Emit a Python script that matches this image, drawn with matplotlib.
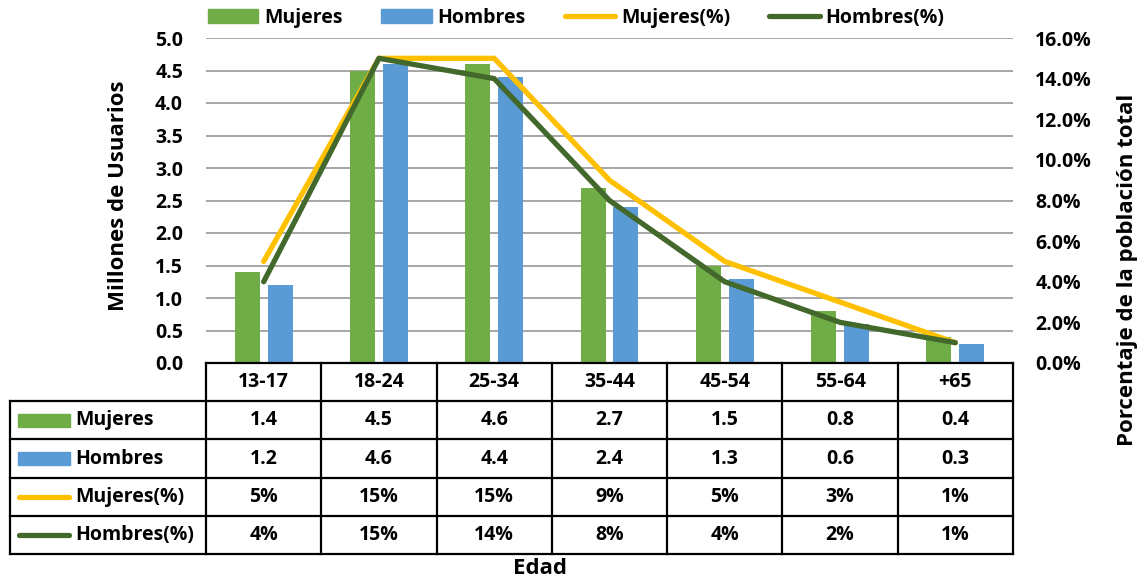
import numpy as np
import matplotlib.pyplot as plt
from matplotlib.ticker import MultipleLocator, FormatStrFormatter, PercentFormatter
from matplotlib.transforms import blended_transform_factory
from matplotlib.patches import Rectangle
from matplotlib.lines import Line2D

# data
edades = ['13-17', '18-24', '25-34', '35-44', '45-54', '55-64', '+65']
mujeres = [1.4, 4.5, 4.6, 2.7, 1.5, 0.8, 0.4]
hombres = [1.2, 4.6, 4.4, 2.4, 1.3, 0.6, 0.3]
mujeres_pct = [5, 15, 15, 9, 5, 3, 1]
hombres_pct = [4, 15, 14, 8, 4, 2, 1]

c_muj = '#70AD47'
c_hom = '#5B9BD5'
c_mpct = '#FFC000'
c_hpct = '#43682B'

plt.rcParams['font.family'] = ['Open Sans', 'DejaVu Sans']
plt.rcParams['font.weight'] = 'bold'
FS = 14

W, H = 1148, 581
fig = plt.figure(figsize=(W / 100, H / 100), dpi=100)

# main axes (pixel layout of the reference)
ax = fig.add_axes([206 / W, 1 - 363 / H, 807 / W, 325 / H])
x = np.arange(len(edades))
ax.bar(x - 0.143, mujeres, width=0.217, color=c_muj, zorder=2)
ax.bar(x + 0.143, hombres, width=0.217, color=c_hom, zorder=2)
ax.set_xlim(-0.5, len(edades) - 0.5)
ax.set_ylim(0, 5)
ax.yaxis.set_major_locator(MultipleLocator(0.5))
ax.yaxis.set_major_formatter(FormatStrFormatter('%.1f'))
ax.grid(axis='y', color='#A6A6A6', lw=1.4, zorder=0)
ax.set_xticks([])
ax.tick_params(axis='y', length=0, pad=16.5, labelsize=FS)
for s in ax.spines.values():
    s.set_visible(False)

ax2 = ax.twinx()
ax2.plot(x, mujeres_pct, color=c_mpct, lw=3.8, solid_capstyle='round', solid_joinstyle='round')
ax2.plot(x, hombres_pct, color=c_hpct, lw=3.8, solid_capstyle='round', solid_joinstyle='round')
ax2.set_ylim(0, 16)
ax2.yaxis.set_major_locator(MultipleLocator(2))
ax2.yaxis.set_major_formatter(PercentFormatter(decimals=1))
ax2.tick_params(axis='y', length=0, pad=16, labelsize=FS)
for s in ax2.spines.values():
    s.set_visible(False)

# axis titles
fig.text(118 / W, 1 - 196 / H, 'Millones de Usuarios', rotation=90,
         ha='center', va='center', fontsize=16, fontweight='bold')
fig.text(1128 / W, 1 - 270 / H, 'Porcentaje de la población total', rotation=90,
         ha='center', va='center', fontsize=16, fontweight='bold')
fig.text(540 / W, 1 - 569 / H, 'Edad', ha='center', va='center', fontsize=16,
         fontweight='bold')

# data table below the plot
tab = fig.add_axes([0, 0, 1, 1])
tab.set_xlim(0, W)
tab.set_ylim(H, 0)
tab.axis('off')
tr = blended_transform_factory(ax.transData, tab.transData)

row_y = [363, 401, 439, 478, 516, 554]
lk = dict(color='black', lw=1.6, solid_capstyle='projecting')
tab.plot([-0.5, len(edades) - 0.5], [row_y[0], row_y[0]], transform=tr, **lk)
for b in np.arange(-0.5, len(edades)):
    tab.plot([b, b], [row_y[0], row_y[-1]], transform=tr, **lk)
for yy in row_y[1:]:
    tab.plot([10, 1013], [yy, yy], **lk)
tab.plot([10, 10], [row_y[1], row_y[-1]], **lk)

for i, e in enumerate(edades):
    tab.text(i, (row_y[0] + row_y[1]) / 2, e, transform=tr,
             ha='center', va='center', fontsize=FS)

rows = [
    ('Mujeres', [f'{v:.1f}' for v in mujeres], c_muj, 'bar'),
    ('Hombres', [f'{v:.1f}' for v in hombres], c_hom, 'bar'),
    ('Mujeres(%)', [f'{v}%' for v in mujeres_pct], c_mpct, 'line'),
    ('Hombres(%)', [f'{v}%' for v in hombres_pct], c_hpct, 'line'),
]
for r, (name, vals, col, kind) in enumerate(rows):
    yc = (row_y[r + 1] + row_y[r + 2]) / 2
    if kind == 'bar':
        tab.add_patch(Rectangle((18, yc - 6.5), 52, 13, color=col))
    else:
        tab.plot([19, 69], [yc, yc], color=col, lw=3.8, solid_capstyle='round')
    tab.text(75, yc, name, ha='left', va='center', fontsize=FS)
    for i, v in enumerate(vals):
        tab.text(i, yc, v, transform=tr, ha='center', va='center', fontsize=FS)

# top legend
handles = [Rectangle((0, 0), 1, 1, color=c_muj), Rectangle((0, 0), 1, 1, color=c_hom),
           Line2D([], [], color=c_mpct, lw=3.8, solid_capstyle='round'),
           Line2D([], [], color=c_hpct, lw=3.8, solid_capstyle='round')]
fig.legend(handles, ['Mujeres', 'Hombres', 'Mujeres(%)', 'Hombres(%)'],
           loc='center', bbox_to_anchor=(576 / W, 1 - 18 / H), ncol=4, frameon=False,
           fontsize=FS, handlelength=2.6, handleheight=0.7, handletextpad=0.3,
           columnspacing=2.0, borderaxespad=0)

fig.savefig('out.png', dpi=100)
